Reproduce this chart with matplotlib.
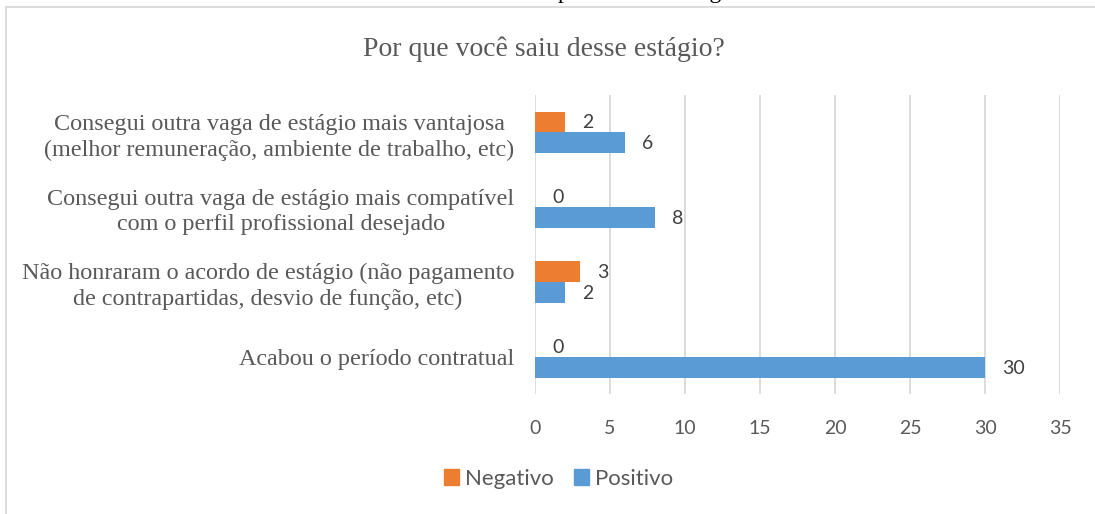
import matplotlib
matplotlib.use("Agg")
import matplotlib.pyplot as plt
import numpy as np
from matplotlib.patches import Patch
from matplotlib.lines import Line2D

categories = [
    "Consegui outra vaga de estágio mais vantajosa\n(melhor remuneração, ambiente de trabalho, etc)",
    "Consegui outra vaga de estágio mais compatível\ncom o perfil profissional desejado",
    "Não honraram o acordo de estágio (não pagamento\nde contrapartidas, desvio de função, etc)",
    "Acabou o período contratual",
]
negativo = [2, 0, 3, 0]
positivo = [6, 8, 2, 30]
xticks = [0, 5, 10, 15, 20, 25, 30, 35]

orange = "#ED7D31"
blue = "#5B9BD5"
gray_txt = "#595959"
serif = "Liberation Serif"
sans = "Lato"

fig = plt.figure(figsize=(10.95, 5.14), dpi=100)
ax = fig.add_axes([0.4886, 0.2335, 0.4795, 0.5815])

y = np.arange(len(categories))[::-1]
h = 0.28
b_neg = ax.barh(y + h / 2, negativo, height=h, color=orange)
b_pos = ax.barh(y - h / 2, positivo, height=h, color=blue)

for bars, vals in ((b_neg, negativo), (b_pos, positivo)):
    for r, v in zip(bars, vals):
        ax.annotate(str(v), xy=(r.get_width(), r.get_y() + r.get_height() / 2),
                    xytext=(17, -1), textcoords="offset pixels",
                    ha="left", va="center", fontsize=14, family=sans, color="#404040")

ax.set_xlim(0, 35)
ax.set_ylim(-0.5, len(categories) - 0.5)
ax.set_xticks(xticks)
ax.set_xticklabels([str(t) for t in xticks], family=sans, fontsize=14, color=gray_txt)
ax.set_yticks(y)
ax.set_yticklabels(categories, family=serif, fontsize=17.4, color=gray_txt,
                   multialignment="center", linespacing=1.3)
ax.tick_params(axis="both", length=0)
ax.tick_params(axis="x", pad=19)
ax.tick_params(axis="y", pad=15)
for s in ax.spines.values():
    s.set_visible(False)
ax.grid(axis="x", color="#D9D9D9", linewidth=1.3)
ax.set_axisbelow(True)

fig.text(0.497, 0.905, "Por que você saiu desse estágio?", ha="center", va="center",
         family=serif, fontsize=20, color=gray_txt)
fig.text(0.497, 1.014, "Gráfico 14 – Motivos pelo fim do estágio", ha="center", va="center",
         family=serif, fontsize=17, color="black")

# chart area border (cropped at right and bottom)
fig.add_artist(Line2D([6 / 1095, 1], [1 - 7 / 514, 1 - 7 / 514], transform=fig.transFigure,
                      color="#D9D9D9", linewidth=1.3))
fig.add_artist(Line2D([6 / 1095, 6 / 1095], [0, 1 - 7 / 514], transform=fig.transFigure,
                      color="#D9D9D9", linewidth=1.3))

handles = [Patch(color=orange, label="Negativo"), Patch(color=blue, label="Positivo")]
fig.legend(handles=handles, loc="center", bbox_to_anchor=(0.51, 0.068), ncol=2,
           frameon=False, handlelength=0.7, handleheight=0.7, handletextpad=0.25,
           columnspacing=0.9, prop={"family": sans, "size": 16}, labelcolor=gray_txt)

fig.savefig("out.png", dpi=100)
